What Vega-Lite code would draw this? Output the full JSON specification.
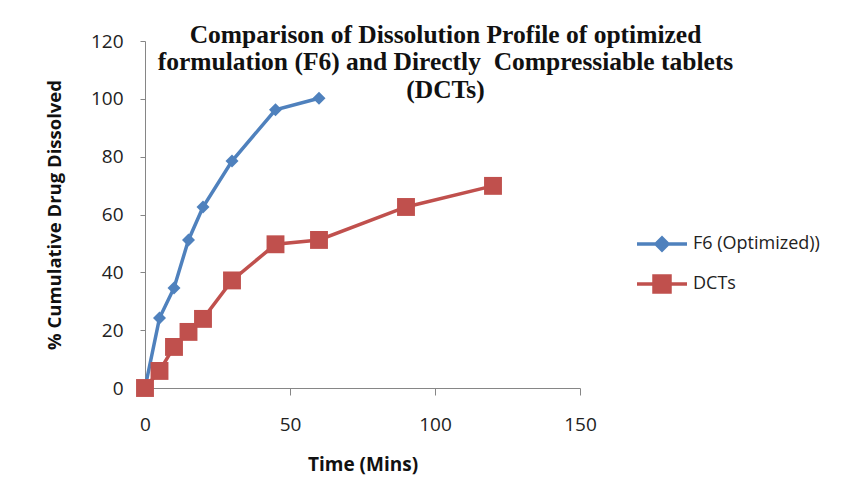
{
  "$schema": "https://vega.github.io/schema/vega-lite/v6.json",
  "width": 435,
  "height": 347,
  "autosize": "none",
  "padding": {"left": 145, "top": 41, "right": 272, "bottom": 112},
  "background": "white",
  "title": {
    "text": [
      "Comparison of Dissolution Profile of optimized",
      "formulation (F6) and Directly\u00a0 Compressiable tablets",
      "(DCTs)"
    ],
    "font": "Liberation Serif",
    "fontWeight": "bold",
    "fontSize": 25.5,
    "lineHeight": 27.5,
    "color": "#111111",
    "anchor": "middle",
    "frame": "group",
    "baseline": "top",
    "offset": 0,
    "dx": 83,
    "dy": 71
  },
  "data": {
    "values": [
      {"time": 0, "pct": 0, "series": "F6 (Optimized))"},
      {"time": 5, "pct": 24.2, "series": "F6 (Optimized))"},
      {"time": 10, "pct": 34.6, "series": "F6 (Optimized))"},
      {"time": 15, "pct": 51.2, "series": "F6 (Optimized))"},
      {"time": 20, "pct": 62.6, "series": "F6 (Optimized))"},
      {"time": 30, "pct": 78.5, "series": "F6 (Optimized))"},
      {"time": 45, "pct": 96.2, "series": "F6 (Optimized))"},
      {"time": 60, "pct": 100.2, "series": "F6 (Optimized))"},
      {"time": 0, "pct": 0, "series": "DCTs"},
      {"time": 5, "pct": 5.9, "series": "DCTs"},
      {"time": 10, "pct": 14.2, "series": "DCTs"},
      {"time": 15, "pct": 19.4, "series": "DCTs"},
      {"time": 20, "pct": 23.9, "series": "DCTs"},
      {"time": 30, "pct": 37.2, "series": "DCTs"},
      {"time": 45, "pct": 49.7, "series": "DCTs"},
      {"time": 60, "pct": 51.2, "series": "DCTs"},
      {"time": 90, "pct": 62.6, "series": "DCTs"},
      {"time": 120, "pct": 69.9, "series": "DCTs"}
    ]
  },
  "encoding": {
    "x": {
      "field": "time",
      "type": "quantitative",
      "scale": {"domain": [0, 150], "nice": false, "zero": true},
      "axis": {
        "title": "Time (Mins)",
        "values": [0, 50, 100, 150],
        "grid": false,
        "tickSize": 7,
        "labelFlush": false,
        "labelPadding": 20,
        "titlePadding": 21,
        "labelFont": "Open Sans",
        "labelFontSize": 19,
        "labelColor": "#222222",
        "titleFont": "Open Sans",
        "titleFontSize": 19,
        "titleFontWeight": "bold",
        "titleColor": "#111111",
        "domainColor": "#868686",
        "tickColor": "#868686"
      }
    },
    "y": {
      "field": "pct",
      "type": "quantitative",
      "scale": {"domain": [0, 120], "nice": false},
      "axis": {
        "title": "% Cumulative Drug Dissolved",
        "values": [0, 20, 40, 60, 80, 100, 120],
        "grid": false,
        "tickSize": 5,
        "labelFlush": false,
        "labelPadding": 17,
        "titlePadding": 26,
        "labelFont": "Open Sans",
        "labelFontSize": 19,
        "labelColor": "#222222",
        "titleFont": "Open Sans",
        "titleFontSize": 18.5,
        "titleFontWeight": "bold",
        "titleColor": "#111111",
        "domainColor": "#868686",
        "tickColor": "#868686"
      }
    },
    "color": {
      "field": "series",
      "type": "nominal",
      "sort": ["F6 (Optimized))", "DCTs"],
      "scale": {"domain": ["F6 (Optimized))", "DCTs"], "range": ["#4F81BD", "#C0504D"]},
      "legend": {
        "title": null,
        "orient": "none",
        "legendX": 505,
        "legendY": 191,
        "padding": 0,
        "symbolSize": 400,
        "symbolStrokeWidth": 3.5,
        "labelOffset": 19,
        "rowPadding": 12,
        "labelFont": "Open Sans",
        "labelFontSize": 18,
        "labelColor": "#222222",
        "encode": {
          "symbols": {
            "update": {
              "shape": {"signal": "datum.value === 'DCTs' ? 'M-2.5,0H2.5M-0.8,-0.8H0.8V0.8H-0.8Z' : 'M-2.5,0H2.5M-0.6,0L0,-0.6L0.6,0L0,0.6Z'"},
              "size": {"value": 400},
              "strokeWidth": {"value": 3.5},
              "stroke": {"scale": "color", "field": "value"},
              "fill": {"scale": "color", "field": "value"},
              "opacity": {"value": 1}
            }
          }
        }
      }
    }
  },
  "layer": [
    {
      "mark": {"type": "line", "strokeWidth": 3.5, "clip": false}
    },
    {
      "mark": {"type": "point", "filled": true, "opacity": 1, "clip": false},
      "encoding": {
        "shape": {
          "condition": {"test": "datum.series === 'DCTs'", "value": "square"},
          "value": "diamond"
        },
        "size": {
          "condition": {"test": "datum.series === 'DCTs'", "value": 320},
          "value": 170
        }
      }
    }
  ],
  "config": {
    "view": {"stroke": null}
  }
}
